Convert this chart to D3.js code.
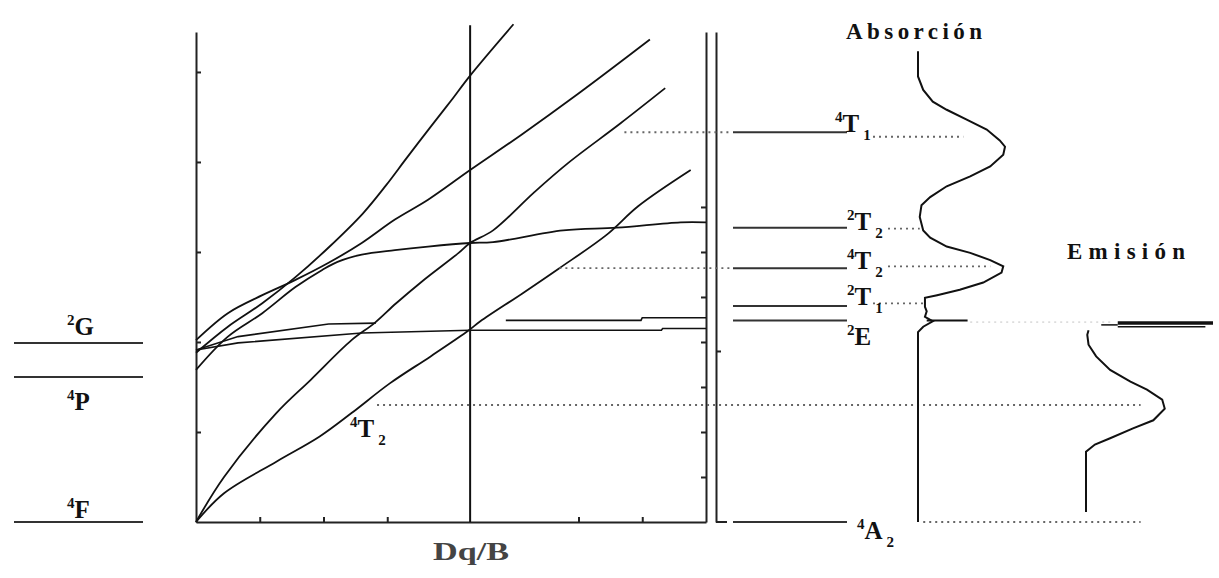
<!DOCTYPE html>
<html>
<head>
<meta charset="utf-8">
<script src="https://cdn.jsdelivr.net/npm/d3@7"></script>
<style>
  body { margin: 0; background: #fff; }
</style>
</head>
<body>
<div id="chart"></div>
<script>
// Tanabe-Sugano d3 diagram with absorption / emission spectra
// TS curves: [Dq/B, E/B]
const curve4T2  = [[0,0],[0.22,3.2],[0.63,6.7],[0.97,9.5],[1.22,12.1],[1.52,15.4],[1.84,18.4],[2.14,21.3],[2.23,22.3],[2.56,25.4],[2.85,28.2],[3.22,31.9],[3.47,35.1],[3.88,39.1]];
const curve4T1F = [[0,0],[0.22,5.0],[0.63,12.1],[0.90,15.8],[1.22,20.2],[1.40,22.1],[1.57,24.3],[1.77,26.7],[2.06,29.9],[2.15,31.0],[2.33,32.4],[2.65,36.6],[2.92,39.9],[3.33,44.3],[3.68,48.2]];
const curve4T1P = [[0,18.8],[0.25,21.7],[0.52,24.3],[0.78,27.2],[1.04,30.5],[1.31,34.3],[1.49,37.4],[1.65,40.4],[1.84,43.9],[2.0,46.8],[2.15,49.6],[2.49,55.3]];
const curve2A1  = [[0,20.2],[0.25,23.2],[0.52,25.2],[0.78,26.9],[1.04,28.8],[1.30,31.0],[1.56,33.6],[1.82,35.8],[2.15,39.1],[2.55,43.0],[3.0,47.6],[3.56,53.6]];
const curve2T2  = [[0,16.9],[0.25,20.6],[0.52,23.2],[0.78,26.1],[0.99,28.0],[1.11,28.9],[1.30,29.7],[1.56,30.2],[1.82,30.6],[2.15,31.0],[2.33,31.1],[2.88,32.4],[3.30,32.7],[3.80,33.3],[4.0,33.3]];
const curve2T1  = [[0,19.1],[0.33,20.6],[1.04,22.0],[1.41,22.1],null,[2.43,22.4],[3.49,22.4],[3.50,22.7],[4.0,22.7]];
const curve2E   = [[0,19.1],[0.33,19.9],[1.30,21.0],[2.15,21.3],[3.65,21.3],[3.66,21.5],[4.0,21.5]];

// free ion terms (left)
const ionTerms = ["2G", "4P", "4F"];
const ionE = [19.9, 16.1, 0];

// crystal field levels at the chosen Dq/B (right)
const levelNames = ["4T1", "2T2", "4T2", "2T1", "2E", "4A2"];
const levelE = [43.3, 32.7, 28.2, 24.0, 22.4, 0];
const rubyDq = 2.15;

// absorption bands: energy, intensity where the dotted line ends, TS start
const bandLevel = ["4T1", "2T2", "4T2", "2T1"];
const bandE = [42.8, 32.6, 28.4, 24.3];
const bandI = [0.52, 0.02, 0.83, 0.06];
const bandDqFrom = [3.36, null, 2.85, null];

// absorption spectrum [E/B, intensity]
const absorption = [[52.3,0],[49.5,0],[48.0,0.06],[46.7,0.17],[45.8,0.33],[44.7,0.56],[43.6,0.79],[42.4,0.94],[41.7,1.0],[40.8,0.98],[39.5,0.83],[38.4,0.6],[37.3,0.33],[36.1,0.14],[35.2,0.04],[33.9,0.02],[32.4,0.06],[31.6,0.14],[30.6,0.33],[29.9,0.6],[29.1,0.83],[28.4,0.98],[27.7,0.96],[26.6,0.75],[25.8,0.48],[25.2,0.22],[24.9,0.08],[23.9,0.08],[23.4,0.10],[22.8,0.08],[22.3,0.17],[21.7,0.06],[21.1,0],[0,0]];
const absSpike = [[22.4,0.1],[22.4,0.57]];

// emission spectrum [E/B, intensity]
const emission = [[1.1,0],[7.8,0],[8.6,0.07],[9.3,0.19],[10.4,0.37],[11.3,0.53],[12.6,0.62],[13.6,0.60],[14.7,0.48],[15.6,0.35],[16.9,0.19],[18.4,0.08],[19.7,0.02],[20.8,0.01],[21.3,0.02]];
const emLineE = [22.1, 21.7];
const emLineI = [1.0, 0.94];
const emBandE = 13.0;

const xTicks = [0.5, 1, 1.5, 3, 3.5];
const yTicks = [10, 20, 30, 40, 50];
const rightTicks = [5, 10, 15, 20, 25, 30, 35];

const W = 1219, H = 578;
const serif = "'Liberation Serif', 'Times New Roman', serif";
const ink = "#111";

const svg = d3.select("#chart").append("svg")
  .attr("width", W).attr("height", H);

const x = d3.scaleLinear().domain([0, 4]).range([196, 706]);
const y = d3.scaleLinear().domain([0, 54.44]).range([522, 32]);
const xAbs = d3.scaleLinear().domain([0, 1]).range([918, 1005]);
const xEm = d3.scaleLinear().domain([0, 1]).range([1086, 1213]);

// axes
svg.append("g")
  .attr("transform", `translate(${x(0)},0)`)
  .call(d3.axisLeft(y).tickValues(yTicks).tickSize(-5).tickSizeOuter(0).tickFormat(""));
svg.append("g")
  .attr("transform", `translate(0,${y(0)})`)
  .call(d3.axisBottom(x).tickValues(xTicks).tickSize(-5).tickSizeOuter(0).tickFormat(""));
svg.append("g")
  .attr("transform", `translate(${x(4)},0)`)
  .call(d3.axisLeft(y).tickValues(rightTicks).tickSize(5).tickSizeOuter(0).tickFormat(""));
svg.append("g")
  .attr("transform", `translate(${x(4) + 10},0)`)
  .call(d3.axisRight(y).tickValues([19]).tickSize(5).tickSizeOuter(0).tickFormat(""));
svg.selectAll(".domain, .tick line").attr("stroke", "#222").attr("stroke-width", 2);
svg.append("line")
  .attr("x1", x(4) + 10).attr("x2", x(4) + 21)
  .attr("y1", y(0)).attr("y2", y(0))
  .attr("stroke", "#222").attr("stroke-width", 2);

// vertical line at the chosen Dq/B
svg.append("line")
  .attr("x1", x(rubyDq)).attr("x2", x(rubyDq))
  .attr("y1", y(0)).attr("y2", y(55.2))
  .attr("stroke", ink).attr("stroke-width", 2);

// TS curves
const tsLine = d3.line()
  .defined(d => d !== null)
  .x(d => x(d[0])).y(d => y(d[1]))
  .curve(d3.curveCatmullRom.alpha(0.5));
[curve4T2, curve4T1F, curve4T1P, curve2A1, curve2T2].forEach(c => {
  svg.append("path")
    .attr("d", tsLine(c))
    .attr("fill", "none")
    .attr("stroke", ink)
    .attr("stroke-width", 1.8);
});
const flatLine = d3.line()
  .defined(d => d !== null)
  .x(d => x(d[0])).y(d => y(d[1]));
[curve2T1, curve2E].forEach(c => {
  svg.append("path")
    .attr("d", flatLine(c))
    .attr("fill", "none")
    .attr("stroke", ink)
    .attr("stroke-width", 1.6);
});

// free ion levels
svg.selectAll(".ion")
  .data(ionE)
  .join("line")
    .attr("x1", 14).attr("x2", 143)
    .attr("y1", d => y(d)).attr("y2", d => y(d))
    .attr("stroke", "#333").attr("stroke-width", 2);

// crystal field levels
svg.selectAll(".lvl")
  .data(levelE)
  .join("line")
    .attr("x1", 733).attr("x2", 847)
    .attr("y1", d => y(d)).attr("y2", d => y(d))
    .attr("stroke", "#333").attr("stroke-width", 2);

// dotted guide lines
function dotted(x1, x2, e, col) {
  svg.append("line")
    .attr("x1", x1).attr("x2", x2)
    .attr("y1", y(e)).attr("y2", y(e))
    .attr("stroke", col || "#666")
    .attr("stroke-width", 1.8)
    .attr("stroke-dasharray", "2,4");
}
const labelEnd = {"4T1": 873, "2T2": 888, "4T2": 888, "2T1": 873};
bandLevel.forEach((name, i) => {
  const lvl = levelE[levelNames.indexOf(name)];
  if (bandDqFrom[i] !== null) dotted(x(bandDqFrom[i]), 730, lvl);
  dotted(labelEnd[name], xAbs(bandI[i]), bandE[i]);
});
dotted(x(1.42), xEm(0.43), emBandE);
dotted(xAbs(0.06), xEm(0.43), 0);
dotted(xAbs(0.6), xEm(0.2), 22.2, "#ddd");

// absorption spectrum
const absLine = d3.line().x(d => xAbs(d[1])).y(d => y(d[0]));
svg.append("path")
  .attr("d", absLine(absorption))
  .attr("fill", "none").attr("stroke", ink).attr("stroke-width", 2);
svg.append("path")
  .attr("d", absLine(absSpike))
  .attr("fill", "none").attr("stroke", ink).attr("stroke-width", 2);

// emission spectrum
const emLine = d3.line().x(d => xEm(d[1])).y(d => y(d[0]));
svg.append("path")
  .attr("d", emLine(emission))
  .attr("fill", "none").attr("stroke", ink).attr("stroke-width", 2);
emLineE.forEach((e, i) => {
  svg.append("line")
    .attr("x1", xEm(0.25)).attr("x2", xEm(emLineI[i]))
    .attr("y1", y(e)).attr("y2", y(e))
    .attr("stroke", ink).attr("stroke-width", i === 0 ? 3.5 : 1.5);
});
svg.append("line")
  .attr("x1", xEm(0.12)).attr("x2", xEm(0.25))
  .attr("y1", y(21.9)).attr("y2", y(21.9))
  .attr("stroke", ink).attr("stroke-width", 1.5);

// term labels
function term(x0, yb, sup, main, sub) {
  const t = svg.append("text")
    .attr("x", x0).attr("y", yb)
    .attr("font-family", serif).attr("font-weight", "bold")
    .attr("fill", ink);
  t.append("tspan").attr("font-size", 15).attr("dy", -10).text(sup);
  t.append("tspan").attr("font-size", 25).attr("dy", 10).text(main);
  if (sub) t.append("tspan").attr("font-size", 15).attr("dx", 4).attr("dy", 8).text(sub);
}
const labelPos = {"4T1": [835, 0], "2T2": [847, 2], "4T2": [847, 1], "2T1": [847, -1], "2E": [847, 25], "4A2": [857, 17]};
levelNames.forEach((name, i) => {
  const p = labelPos[name];
  term(p[0], y(levelE[i]) + p[1], name[0], name[1], name.slice(2));
});
const ionOff = [-8, 33, -4];
ionTerms.forEach((name, i) => term(67, y(ionE[i]) + ionOff[i], name[0], name[1], ""));
term(350, 437, "4", "T", "2");

// titles
svg.append("text")
  .attr("x", 846).attr("y", 39)
  .attr("font-family", serif).attr("font-weight", "bold").attr("font-size", 23)
  .attr("textLength", 136).attr("lengthAdjust", "spacing")
  .attr("fill", ink).text("Absorción");
svg.append("text")
  .attr("x", 1067).attr("y", 259)
  .attr("font-family", serif).attr("font-weight", "bold").attr("font-size", 23)
  .attr("textLength", 118).attr("lengthAdjust", "spacing")
  .attr("fill", ink).text("Emisión");
svg.append("text")
  .attr("x", 433).attr("y", 560)
  .attr("font-family", serif).attr("font-weight", "bold").attr("font-size", 26)
  .attr("textLength", 76).attr("lengthAdjust", "spacingAndGlyphs")
  .attr("fill", "#444").text("Dq/B");
</script>
</body>
</html>
